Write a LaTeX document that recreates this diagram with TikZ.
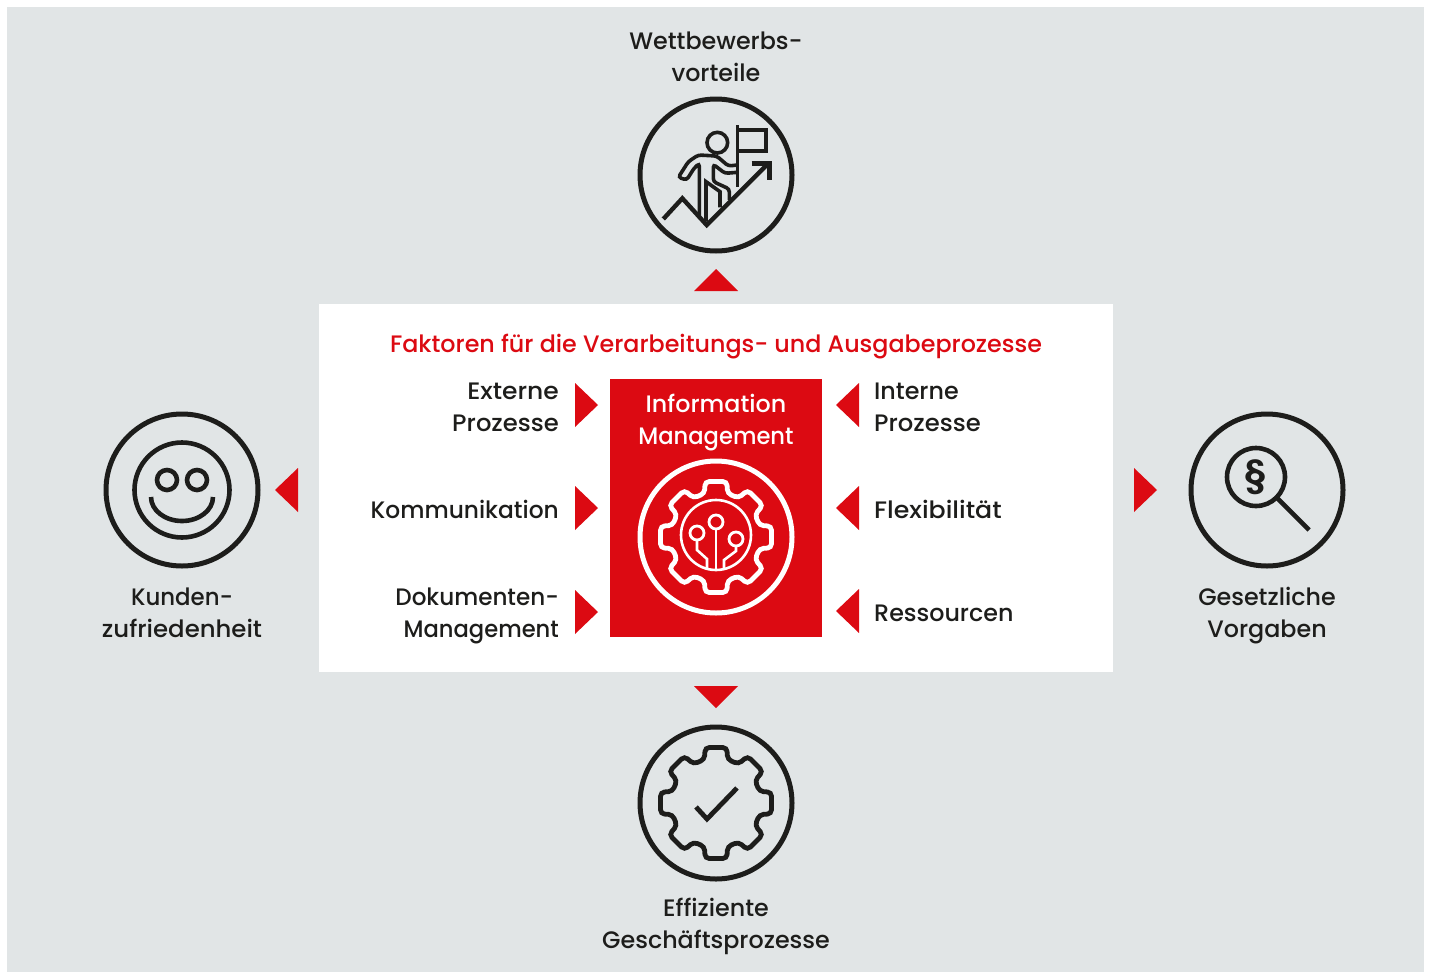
\documentclass[tikz,border=0pt]{standalone}
\usepackage{fontspec}
\setmainfont{Poppins Medium}
\newfontfamily\parafont{Poppins SemiBold}
\definecolor{bgc}{HTML}{E1E5E6}
\definecolor{redc}{HTML}{DC0A12}
\definecolor{darkc}{HTML}{1D1D1B}
\newcommand{\sx}[2]{{\addfontfeatures{FakeStretch=#1}#2}}
\tikzset{
  ringnode/.style={circle,draw=#1,line width=5pt,minimum size=152pt,inner sep=0pt,fill=none},
  icon/.style={draw=darkc,line width=3.6pt,line join=miter},
  lab/.style={anchor=base,font=\fontsize{23.8pt}{30pt}\selectfont,text=darkc,inner sep=0pt},
  tri/.style={fill=redc,draw=none},
}
\newcommand{\gearshape}{%
  (90:55.46) \foreach \a in {90,135,180,225,270,315,0,45} { -- (\a+11:56.5) -- (\a+15:45) -- (\a+30:45) -- (\a+34:56.5) } -- cycle}
\begin{document}
\begin{tikzpicture}[x=1pt,y=-1pt]
\useasboundingbox (0,0) rectangle (1432,972);
\fill[white] (0,0) rectangle (1432,972);
\fill[bgc] (7,7) rectangle (1424,972);
\fill[white] (319,304) rectangle (1113,672);
\fill[redc] (610,379) rectangle (822,637);

% outer triangles
\fill[tri] (716,269) -- (738,291) -- (694,291) -- cycle;
\fill[tri] (716,708) -- (738,686) -- (694,686) -- cycle;
\fill[tri] (275,490) -- (298,468) -- (298,512) -- cycle;
\fill[tri] (1157,490) -- (1134,468) -- (1134,512) -- cycle;
% inner triangles
\foreach \y in {405,508,612} \fill[tri] (598,\y) -- (575,\y-22) -- (575,\y+22) -- cycle;
\foreach \y in {405,508,611} \fill[tri] (836,\y) -- (859,\y-22) -- (859,\y+22) -- cycle;

% rings
\node[ringnode=darkc] (top) at (716,175) {};
\node[ringnode=darkc] (bottom) at (716,803) {};
\node[ringnode=darkc] (left) at (182,490) {};
\node[ringnode=darkc] (right) at (1267,490) {};
\node[ringnode=white] (centre) at (716,537) {};

% labels
\node[lab] (t1) at (716,49) {Wettbewerbs-};
\node[lab] (t2) at (716,81) {vorteile};
\node[lab] (b1) at (716,916) {Effiziente};
\node[lab] (b2) at (716,948) {Geschäftsprozesse};
\node[lab] (l1) at (182,605) {\sx{0.96}{Kunden-}};
\node[lab] (l2) at (182,637) {\sx{1.025}{zufriedenheit}};
\node[lab] (r1) at (1267,605) {Gesetzliche};
\node[lab] (r2) at (1267,637) {Vorgaben};
\node[lab,text=redc] (title) at (716,352) {Faktoren für die Verarbeitungs- und Ausgabeprozesse};
\node[lab,text=white] (c1) at (716,412) {Information};
\node[lab,text=white] (c2) at (716,444) {\sx{0.95}{Management}};
\node[lab,anchor=base east] (a1) at (559,399) {\sx{1.05}{Externe}};
\node[lab,anchor=base east] (a2) at (559,431) {\sx{1.02}{Prozesse}};
\node[lab,anchor=base east] (a3) at (559,518) {\sx{0.98}{Kommunikation}};
\node[lab,anchor=base east] (a4) at (559,605) {\sx{0.97}{Dokumenten-}};
\node[lab,anchor=base east] (a5) at (559,637) {\sx{0.95}{Management}};
\node[lab,anchor=base west] (d1) at (874,399) {Interne};
\node[lab,anchor=base west] (d2) at (874,431) {\sx{1.02}{Prozesse}};
\node[lab,anchor=base west] (d3) at (874,518) {\sx{1.06}{Flexibilität}};
\node[lab,anchor=base west] (d4) at (874,621) {Ressourcen};

% bottom gear icon
\begin{scope}[shift={(716,803)}]
  \draw[icon,line width=4.8pt,rounded corners=4pt] \gearshape;
  \draw[icon,line width=4.8pt] (-20,4) -- (-9,16) -- (21,-15);
\end{scope}

% centre gear icon
\begin{scope}[shift={(716,537)}]
  \draw[icon,draw=white,line width=4.8pt,rounded corners=4pt] \gearshape;
  \draw[icon,draw=white,line width=2.6pt] (0,-2) circle (35);
  \draw[icon,draw=white,line width=2.8pt] (0,-15) circle (7);
  \draw[icon,draw=white,line width=2.8pt] (-19,-4) circle (7);
  \draw[icon,draw=white,line width=2.8pt] (20,2) circle (7);
  \draw[icon,draw=white,line width=2.6pt] (0,-8) -- (0,32);
  \draw[icon,draw=white,line width=2.6pt] (-19,3) -- (-19,13) -- (-9,22) -- (-9,32);
  \draw[icon,draw=white,line width=2.6pt] (20,9) -- (20,14) -- (8,23) -- (8,32);
\end{scope}

% smiley icon
\begin{scope}[shift={(182,490)}]
  \draw[icon,line width=4.6pt] (0,0) circle (47.5);
  \draw[icon,line width=4.6pt] (-15,-10) circle (10);
  \draw[icon,line width=4.6pt] (15,-10) circle (10);
  \draw[icon,line width=4.6pt] (-31,7) arc[start angle=180,end angle=0,x radius=31,y radius=24];
\end{scope}

% magnifier icon
\begin{scope}[shift={(1256,477)}]
  \draw[icon,line width=4.6pt] (0,0) circle (29);
  \draw[icon,line width=4.6pt] (21,21) -- (53,53);
  \node[font=\parafont\fontsize{38pt}{38pt}\selectfont,text=darkc,inner sep=0pt] (para) at (0,0) {§};
\end{scope}

% climber icon
\begin{scope}[shift={(670,120)},x=0.3333pt,y=-0.3333pt]
  \draw[icon,line width=4.4pt] (-20,297) -- (37,235) -- (110,315) -- (292,133);
  \draw[icon,line width=4.8pt] (245,130) -- (298,130) -- (298,180);
  \draw[icon] (202,15) -- (202,200);
  \draw[icon] (202,30) -- (288,30) -- (288,93) -- (202,93);
  \draw[icon] (142,68) circle (31);
  \draw[icon,rounded corners=3pt] (202,135) -- (175,138) -- (140,108) -- (85,105) -- (55,125) -- (25,172) -- (50,180) -- (72,145) -- (88,130) -- (88,295);
  \draw[icon] (108,305) -- (108,185) -- (150,215) -- (150,262);
  \draw[icon,rounded corners=3pt] (202,157) -- (165,160) -- (130,133) -- (130,185) -- (178,207) -- (178,240);
\end{scope}
\end{tikzpicture}
\end{document}
